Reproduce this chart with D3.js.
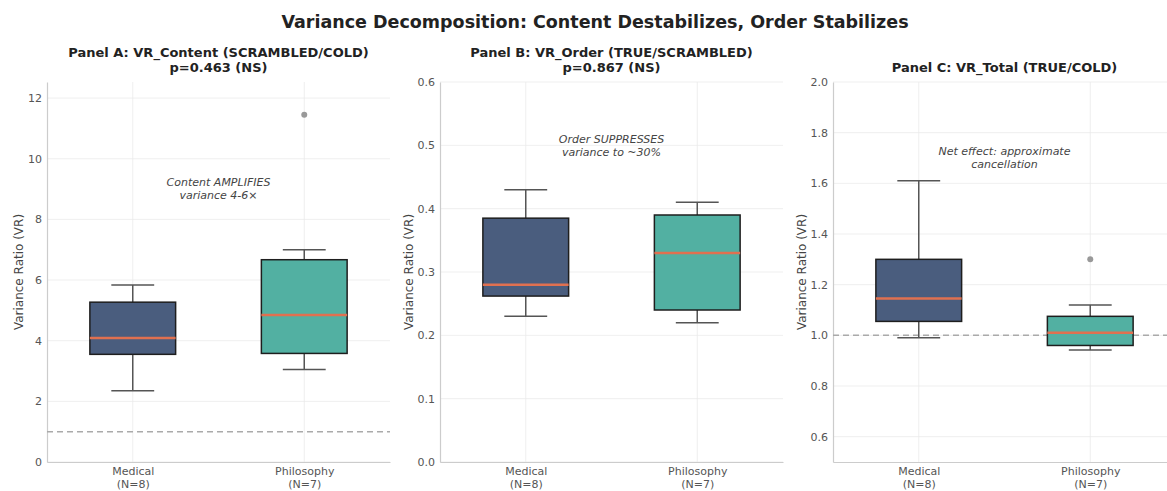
<!DOCTYPE html>
<html>
<head>
<meta charset="utf-8">
<script src="https://cdn.jsdelivr.net/npm/d3@7"></script>
<style>
  body { margin: 0; background: #fff; }
  svg, svg text { font-family: "DejaVu Sans", sans-serif; }
</style>
</head>
<body>
<div id="chart"></div>
<script>
// groups & tick labels
const groups = ["Medical", "Philosophy"];
const groupN = ["(N=8)", "(N=7)"];
const groupColors = ["#4a5d7e", "#52b0a2"];

// box stats: [whiskerLow, q1, median, q3, whiskerHigh]
const contentStats = [[2.35, 3.55, 4.09, 5.27, 5.84], [3.05, 3.58, 4.85, 6.67, 7.0]];
const contentOutliers = [[], [11.45]];
const orderStats = [[0.23, 0.262, 0.28, 0.385, 0.43], [0.22, 0.24, 0.33, 0.39, 0.41]];
const orderOutliers = [[], []];
const totalStats = [[0.99, 1.055, 1.145, 1.30, 1.61], [0.942, 0.96, 1.01, 1.075, 1.12]];
const totalOutliers = [[], [1.30]];

const panels = [
  { title: ["Panel A: VR_Content (SCRAMBLED/COLD)", "p=0.463 (NS)"], stats: contentStats, outliers: contentOutliers,
    domain: [0, 12.53], ticks: [0, 2, 4, 6, 8, 10, 12], fmt: d3.format("d"), ref: 1,
    note: ["Content AMPLIFIES", "variance 4-6\u00d7"], left: 47, noteY: 182, labelOff: 24 },
  { title: ["Panel B: VR_Order (TRUE/SCRAMBLED)", "p=0.867 (NS)"], stats: orderStats, outliers: orderOutliers,
    domain: [0, 0.6], ticks: [0, 0.1, 0.2, 0.3, 0.4, 0.5, 0.6], fmt: d3.format(".1f"), ref: 1,
    note: ["Order SUPPRESSES", "variance to ~30%"], left: 440, noteY: 139, labelOff: 27 },
  { title: ["Panel C: VR_Total (TRUE/COLD)"], stats: totalStats, outliers: totalOutliers,
    domain: [0.5, 2.0], ticks: [0.6, 0.8, 1.0, 1.2, 1.4, 1.6, 1.8, 2.0], fmt: d3.format(".1f"), ref: 1,
    note: ["Net effect: approximate", "cancellation"], left: 833, noteY: 151, labelOff: 27 }
];

const width = 1167, height = 491;
const plotW = 343, plotTop = 82, plotBottom = 462;

const svg = d3.select("#chart").append("svg")
  .attr("width", width).attr("height", height);

svg.append("text")
  .attr("x", 595).attr("y", 28)
  .attr("text-anchor", "middle")
  .attr("font-size", 17.5).attr("font-weight", "bold").attr("fill", "#222")
  .text("Variance Decomposition: Content Destabilizes, Order Stabilizes");

panels.forEach(p => {
  const g = svg.append("g");

  let x = d3.scaleLinear().domain([0.5, 2.5]).range([p.left, p.left + plotW]);
  let y = d3.scaleLinear().domain(p.domain).range([plotBottom, plotTop]);

  // grid
  g.append("g").selectAll("line").data(p.ticks).join("line")
    .attr("x1", p.left).attr("x2", p.left + plotW)
    .attr("y1", d => y(d)).attr("y2", d => y(d))
    .attr("stroke", "#ebebeb").attr("stroke-width", 0.8);
  g.append("g").selectAll("line").data([1, 2]).join("line")
    .attr("x1", d => x(d)).attr("x2", d => x(d))
    .attr("y1", plotTop).attr("y2", plotBottom)
    .attr("stroke", "#ebebeb").attr("stroke-width", 0.8);

  // axes
  const yAxis = g.append("g")
    .attr("transform", `translate(${p.left},0)`)
    .call(d3.axisLeft(y).tickValues(p.ticks).tickFormat(p.fmt).tickSize(0).tickPadding(5));
  yAxis.attr("font-family", null).attr("font-size", 11);
  yAxis.selectAll(".tick text").attr("fill", "#555");
  yAxis.select(".domain").attr("stroke", "#ccc").attr("stroke-width", 1.2);

  const xAxis = g.append("g")
    .attr("transform", `translate(0,${plotBottom})`)
    .call(d3.axisBottom(x).tickValues([1, 2]).tickFormat("").tickSize(0));
  xAxis.attr("font-family", null);
  xAxis.select(".domain").attr("stroke", "#ccc").attr("stroke-width", 1.2);
  xAxis.selectAll(".tick").each(function (d, i) {
    const t = d3.select(this).append("text")
      .attr("text-anchor", "middle").attr("fill", "#555").attr("font-size", 11);
    t.append("tspan").attr("x", 0).attr("y", 13).text(groups[i]);
    t.append("tspan").attr("x", 0).attr("y", 26).text(groupN[i]);
  });

  // y label
  g.append("text")
    .attr("transform", `translate(${p.left - p.labelOff},${(plotTop + plotBottom) / 2}) rotate(-90)`)
    .attr("text-anchor", "middle")
    .attr("font-size", 12).attr("fill", "#444")
    .text("Variance Ratio (VR)");

  // reference line
  if (p.ref >= p.domain[0] && p.ref <= p.domain[1]) {
    g.append("line")
      .attr("x1", p.left).attr("x2", p.left + plotW)
      .attr("y1", y(p.ref)).attr("y2", y(p.ref))
      .attr("stroke", "#aaa").attr("stroke-width", 1.5)
      .attr("stroke-dasharray", "6,4");
  }

  // boxes
  const half = (x(1.25) - x(1));
  p.stats.forEach((s, i) => {
    const cx = x(i + 1);
    g.append("line")
      .attr("x1", cx).attr("x2", cx).attr("y1", y(s[0])).attr("y2", y(s[1]))
      .attr("stroke", "#555").attr("stroke-width", 1.5);
    g.append("line")
      .attr("x1", cx).attr("x2", cx).attr("y1", y(s[3])).attr("y2", y(s[4]))
      .attr("stroke", "#555").attr("stroke-width", 1.5);
    [s[0], s[4]].forEach(v => {
      g.append("line")
        .attr("x1", cx - half / 2).attr("x2", cx + half / 2)
        .attr("y1", y(v)).attr("y2", y(v))
        .attr("stroke", "#555").attr("stroke-width", 1.5);
    });
    g.append("rect")
      .attr("x", cx - half).attr("width", half * 2)
      .attr("y", y(s[3])).attr("height", y(s[1]) - y(s[3]))
      .attr("fill", groupColors[i])
      .attr("stroke", "#1e1e1e").attr("stroke-width", 1.5);
    g.append("line")
      .attr("x1", cx - half).attr("x2", cx + half)
      .attr("y1", y(s[2])).attr("y2", y(s[2]))
      .attr("stroke", "#e07050").attr("stroke-width", 2.5);
    g.selectAll(null).data(p.outliers[i]).join("circle")
      .attr("cx", cx).attr("cy", d => y(d)).attr("r", 3)
      .attr("fill", "#999");
  });

  // note
  const note = g.append("text")
    .attr("text-anchor", "middle").attr("font-size", 11)
    .attr("font-style", "italic").attr("fill", "#444");
  p.note.forEach((line, k) => {
    note.append("tspan").attr("x", p.left + plotW / 2).attr("y", p.noteY + 4 + k * 13).text(line);
  });

  // panel title
  const tt = g.append("text")
    .attr("text-anchor", "middle").attr("font-size", 13)
    .attr("font-weight", "bold").attr("fill", "#222");
  const lines = p.title;
  lines.forEach((line, k) => {
    tt.append("tspan").attr("x", p.left + plotW / 2)
      .attr("y", 72 - (lines.length - 1 - k) * 15).text(line);
  });
});
</script>
</body>
</html>
